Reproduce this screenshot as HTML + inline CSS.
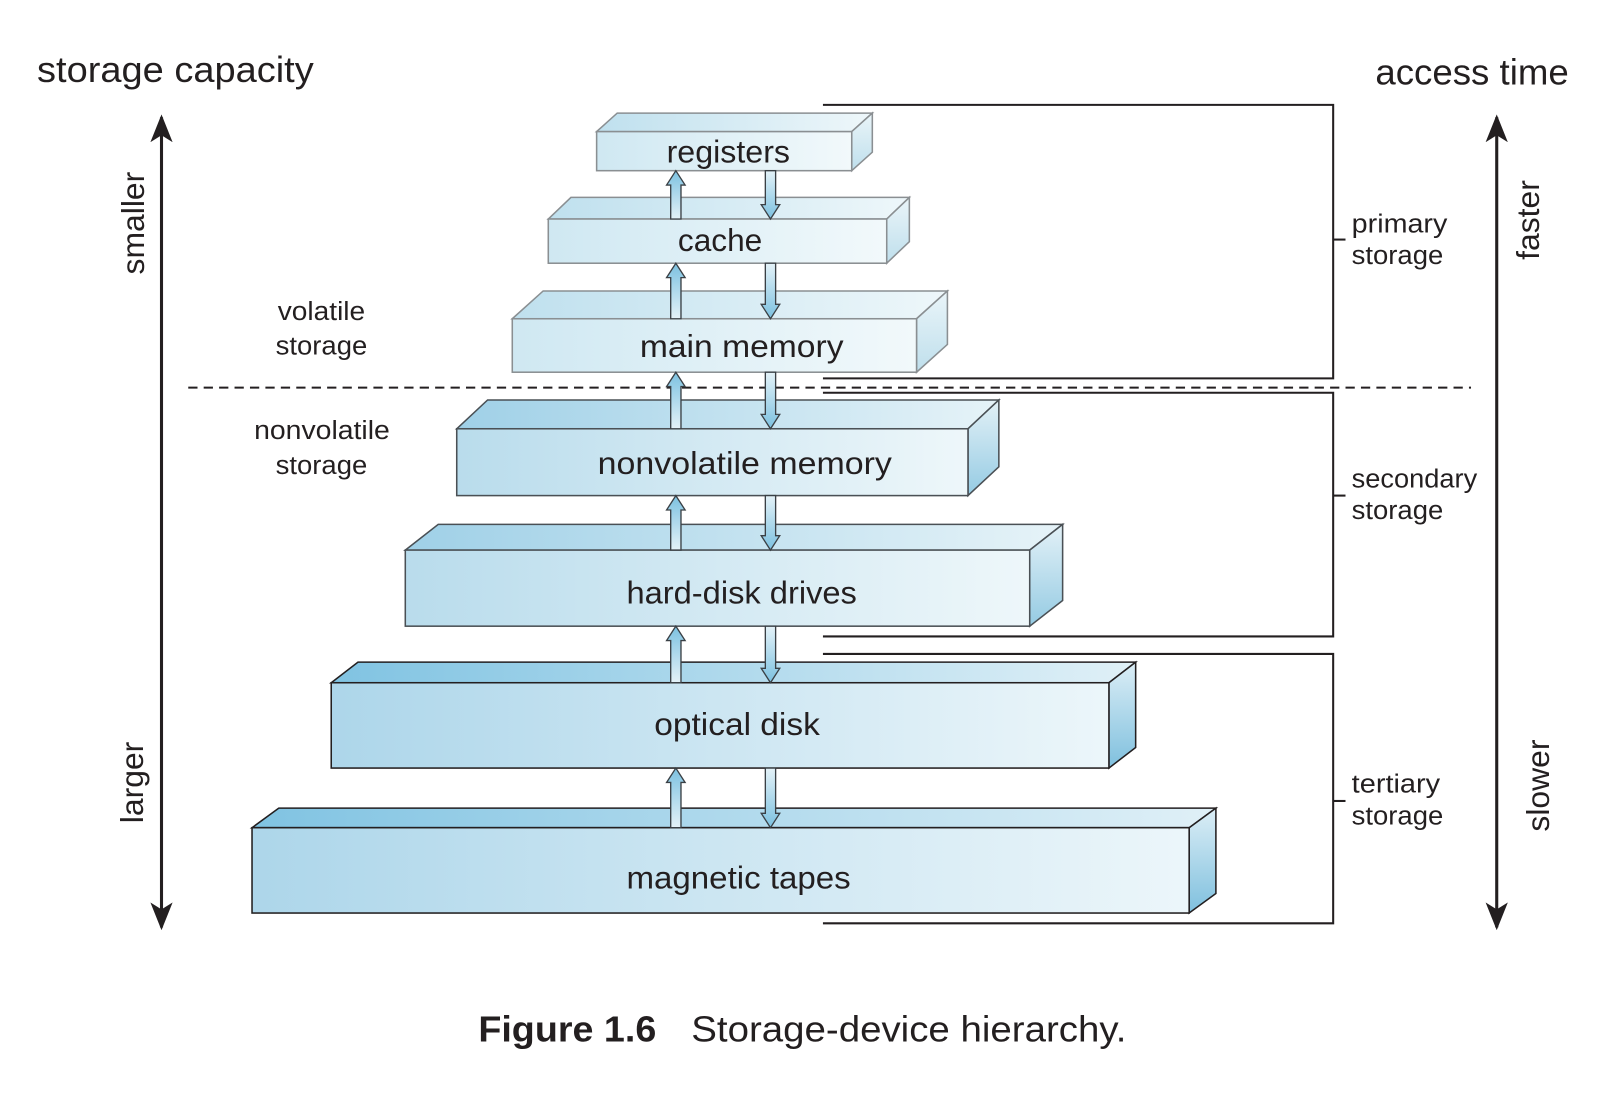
<!DOCTYPE html>
<html><head><meta charset="utf-8"><style>
html,body{margin:0;padding:0;background:#fff;width:1614px;height:1094px;overflow:hidden}
svg{display:block}
text{font-family:"Liberation Sans",sans-serif;fill:#231f20}
</style></head><body>
<svg width="1614" height="1094" viewBox="0 0 1569 1064" preserveAspectRatio="none">
<defs>
<linearGradient id="fA" x1="0" x2="1"><stop offset="0" stop-color="#cfe8f2"/><stop offset="1" stop-color="#f2f9fb"/></linearGradient>
<linearGradient id="tA" x1="0" x2="1"><stop offset="0" stop-color="#bfe0ee"/><stop offset="1" stop-color="#eef7fa"/></linearGradient>
<linearGradient id="sA" x1="0" x2="0" y1="0" y2="1"><stop offset="0" stop-color="#eaf5f9"/><stop offset="1" stop-color="#bfdfec"/></linearGradient>
<linearGradient id="fB" x1="0" x2="1"><stop offset="0" stop-color="#b9dcec"/><stop offset="1" stop-color="#eef7fa"/></linearGradient>
<linearGradient id="tB" x1="0" x2="1"><stop offset="0" stop-color="#9fd0e7"/><stop offset="1" stop-color="#e6f3f8"/></linearGradient>
<linearGradient id="sB" x1="0" x2="0" y1="0" y2="1"><stop offset="0" stop-color="#e3f1f7"/><stop offset="1" stop-color="#95cbe3"/></linearGradient>
<linearGradient id="fC" x1="0" x2="1"><stop offset="0" stop-color="#add6ea"/><stop offset="1" stop-color="#ecf6fa"/></linearGradient>
<linearGradient id="tC" x1="0" x2="1"><stop offset="0" stop-color="#80c3e2"/><stop offset="1" stop-color="#e0f0f7"/></linearGradient>
<linearGradient id="sC" x1="0" x2="0" y1="0" y2="1"><stop offset="0" stop-color="#dceef6"/><stop offset="1" stop-color="#7fc0de"/></linearGradient>
<linearGradient id="ar" x1="0" x2="0" y1="0" y2="1"><stop offset="0" stop-color="#7cc1e0"/><stop offset="1" stop-color="#e4f2f8"/></linearGradient>
<linearGradient id="ad" x1="0" x2="0" y1="0" y2="1"><stop offset="0" stop-color="#e4f2f8"/><stop offset="1" stop-color="#7cc1e0"/></linearGradient>
<marker id="ah" viewBox="0 0 10 10" refX="9" refY="5" markerWidth="9" markerHeight="9" orient="auto-start-reverse"><path d="M0,1 L10,5 L0,9 L2.5,5 Z" fill="#231f20"/></marker>
</defs>

<text x="36" y="80" font-size="35" textLength="269" lengthAdjust="spacingAndGlyphs">storage capacity</text>
<text x="1337" y="82" font-size="35" textLength="188" lengthAdjust="spacingAndGlyphs">access time</text>

<line x1="157" y1="114" x2="157" y2="902" stroke="#231f20" stroke-width="3" marker-start="url(#ah)" marker-end="url(#ah)"/>
<line x1="1455" y1="114" x2="1455" y2="902" stroke="#231f20" stroke-width="3" marker-start="url(#ah)" marker-end="url(#ah)"/>
<text transform="translate(140,217) rotate(-90)" font-size="31" text-anchor="middle">smaller</text>
<text transform="translate(139,761) rotate(-90)" font-size="31" text-anchor="middle">larger</text>
<text transform="translate(1496,214) rotate(-90)" font-size="31" text-anchor="middle">faster</text>
<text transform="translate(1506,764) rotate(-90)" font-size="31" text-anchor="middle">slower</text>

<g font-size="25" lengthAdjust="spacingAndGlyphs">
<text x="270" y="311" textLength="85" lengthAdjust="spacingAndGlyphs">volatile</text>
<text x="268" y="345" textLength="89" lengthAdjust="spacingAndGlyphs">storage</text>
<text x="247" y="427" textLength="132" lengthAdjust="spacingAndGlyphs">nonvolatile</text>
<text x="268" y="461" textLength="89" lengthAdjust="spacingAndGlyphs">storage</text>
<text x="1314" y="226" textLength="93" lengthAdjust="spacingAndGlyphs">primary</text>
<text x="1314" y="257" textLength="89" lengthAdjust="spacingAndGlyphs">storage</text>
<text x="1314" y="474" textLength="122" lengthAdjust="spacingAndGlyphs">secondary</text>
<text x="1314" y="505" textLength="89" lengthAdjust="spacingAndGlyphs">storage</text>
<text x="1314" y="771" textLength="86" lengthAdjust="spacingAndGlyphs">tertiary</text>
<text x="1314" y="802" textLength="89" lengthAdjust="spacingAndGlyphs">storage</text>
</g>

<g fill="none" stroke="#231f20" stroke-width="2">
<polyline points="800,102 1296,102 1296,368 800,368"/>
<line x1="1296" y1="233" x2="1308" y2="233"/>
<polyline points="800,382 1296,382 1296,619 800,619"/>
<line x1="1296" y1="482" x2="1308" y2="482"/>
<polyline points="800,636 1296,636 1296,898 800,898"/>
<line x1="1296" y1="779" x2="1308" y2="779"/>
</g>

<line x1="183" y1="377" x2="1430" y2="377" stroke="#231f20" stroke-width="2" stroke-dasharray="9,6"/>

<g stroke="#8a8f92" stroke-width="1.5">
<polygon points="580,128 600,110 848,110 828,128" fill="url(#tA)"/>
<polygon points="828,128 848,110 848,148 828,166" fill="url(#sA)"/>
<rect x="580" y="128" width="248" height="38" fill="url(#fA)"/>
<polygon points="533,213 555,192 884,192 862,213" fill="url(#tA)"/>
<polygon points="862,213 884,192 884,235 862,256" fill="url(#sA)"/>
<rect x="533" y="213" width="329" height="43" fill="url(#fA)"/>
<polygon points="498,310 528,283 921,283 891,310" fill="url(#tA)"/>
<polygon points="891,310 921,283 921,335 891,362" fill="url(#sA)"/>
<rect x="498" y="310" width="393" height="52" fill="url(#fA)"/>
</g>
<g stroke="#4a5055" stroke-width="1.5">
<polygon points="444,417 474,389 971,389 941,417" fill="url(#tB)"/>
<polygon points="941,417 971,389 971,454 941,482" fill="url(#sB)"/>
<rect x="444" y="417" width="497" height="65" fill="url(#fB)"/>
<polygon points="394,535 426,510 1033,510 1001,535" fill="url(#tB)"/>
<polygon points="1001,535 1033,510 1033,584 1001,609" fill="url(#sB)"/>
<rect x="394" y="535" width="607" height="74" fill="url(#fB)"/>
</g>
<g stroke="#231f20" stroke-width="1.5">
<polygon points="322,664 348,644 1104,644 1078,664" fill="url(#tC)"/>
<polygon points="1078,664 1104,644 1104,727 1078,747" fill="url(#sC)"/>
<rect x="322" y="664" width="756" height="83" fill="url(#fC)"/>
<polygon points="245,805 271,786 1182,786 1156,805" fill="url(#tC)"/>
<polygon points="1156,805 1182,786 1182,869 1156,888" fill="url(#sC)"/>
<rect x="245" y="805" width="911" height="83" fill="url(#fC)"/>
</g>

<g font-size="31">
<text x="648" y="158" textLength="120" lengthAdjust="spacingAndGlyphs">registers</text>
<text x="659" y="244" textLength="82" lengthAdjust="spacingAndGlyphs">cache</text>
<text x="622" y="347" textLength="198" lengthAdjust="spacingAndGlyphs">main memory</text>
<text x="581" y="461" textLength="286" lengthAdjust="spacingAndGlyphs">nonvolatile memory</text>
<text x="609" y="587" textLength="224" lengthAdjust="spacingAndGlyphs">hard-disk drives</text>
<text x="636" y="715" textLength="161" lengthAdjust="spacingAndGlyphs">optical disk</text>
<text x="609" y="864" textLength="218" lengthAdjust="spacingAndGlyphs">magnetic tapes</text>
</g>

<g stroke="#3a4045" stroke-width="1.3">
<polygon fill="url(#ar)" points="652,213 652,180 648,180 657,166 666,180 662,180 662,213"/>
<polygon fill="url(#ad)" points="744,166 744,199 740,199 749,213 758,199 754,199 754,166"/>
<polygon fill="url(#ar)" points="652,310 652,270 648,270 657,256 666,270 662,270 662,310"/>
<polygon fill="url(#ad)" points="744,256 744,296 740,296 749,310 758,296 754,296 754,256"/>
<polygon fill="url(#ar)" points="652,417 652,376 648,376 657,362 666,376 662,376 662,417"/>
<polygon fill="url(#ad)" points="744,362 744,403 740,403 749,417 758,403 754,403 754,362"/>
<polygon fill="url(#ar)" points="652,535 652,496 648,496 657,482 666,496 662,496 662,535"/>
<polygon fill="url(#ad)" points="744,482 744,521 740,521 749,535 758,521 754,521 754,482"/>
<polygon fill="url(#ar)" points="652,664 652,623 648,623 657,609 666,623 662,623 662,664"/>
<polygon fill="url(#ad)" points="744,609 744,650 740,650 749,664 758,650 754,650 754,609"/>
<polygon fill="url(#ar)" points="652,805 652,761 648,761 657,747 666,761 662,761 662,805"/>
<polygon fill="url(#ad)" points="744,747 744,791 740,791 749,805 758,791 754,791 754,747"/>
</g>

<text x="465" y="1013" font-size="35" font-weight="bold" textLength="173" lengthAdjust="spacingAndGlyphs">Figure 1.6</text>
<text x="672" y="1013" font-size="35" textLength="423" lengthAdjust="spacingAndGlyphs">Storage-device hierarchy.</text>
</svg>
</body></html>
